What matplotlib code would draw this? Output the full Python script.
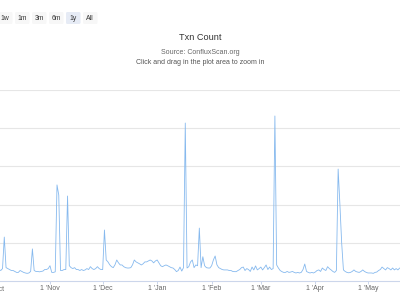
import numpy as np
import matplotlib
matplotlib.use("Agg")
import matplotlib.pyplot as plt
import matplotlib.dates as mdates
from matplotlib.patches import FancyBboxPatch
from matplotlib.transforms import blended_transform_factory

plt.rcParams['font.family'] = ['Liberation Sans', 'DejaVu Sans']

# daily transaction counts (thousands), Oct 2020 .. May 2021
oct_vals = [6.5, 6.0, 6.0, 5.5, 6.5, 23.0, 7.0, 6.5, 6.0, 5.5, 5.5, 5.0, 4.5, 4.5, 5.5, 5.0,
            4.5, 4.2, 4.0, 4.2, 5.0, 16.8, 5.5, 5.0, 5.0, 4.8, 5.0, 5.2, 6.0, 6.0, 6.5]
nov_vals = [8.0, 4.5, 4.5, 4.8, 50.3, 45.0, 5.5, 5.5, 6.0, 6.0, 44.5, 8.0, 7.0, 6.5, 7.0,
            6.0, 6.0, 5.5, 6.0, 5.5, 5.8, 6.5, 6.0, 7.5, 6.5, 6.0, 6.5, 7.5, 6.5, 6.0]
dec_vals = [6.0, 26.7, 11.0, 10.0, 8.5, 7.5, 7.0, 8.5, 11.0, 9.5, 8.4, 8.4, 7.5, 7.0, 6.8, 6.8,
            7.0, 8.5, 11.0, 10.0, 9.5, 9.0, 8.4, 9.0, 10.0, 10.0, 10.5, 11.0, 10.5, 9.5, 10.5]
jan_vals = [11.0, 9.5, 8.0, 7.5, 8.0, 8.4, 8.0, 7.5, 7.0, 6.8, 6.0, 4.9, 5.5, 7.3, 5.2, 7.0,
            82.7, 6.8, 7.5, 10.0, 11.0, 7.0, 8.4, 8.0, 27.7, 7.0, 12.7, 8.0, 7.0, 6.8, 6.8]
feb_vals = [8.0, 11.0, 13.1, 8.5, 7.0, 6.5, 6.0, 5.8, 5.8, 5.8, 5.5, 5.5, 5.0, 4.9, 4.9, 5.5,
            6.0, 7.0, 7.3, 5.5, 6.5, 6.0, 5.0, 7.3, 5.8, 7.9, 5.8, 6.5]
mar_vals = [7.3, 5.8, 7.0, 8.4, 6.0, 7.3, 6.0, 6.5, 86.4, 8.4, 6.8, 5.5, 4.9, 4.5, 4.5, 5.0,
            4.5, 4.7, 5.0, 4.5, 4.2, 4.5, 4.2, 4.5, 6.0, 8.9, 5.0, 4.5, 4.2, 4.5, 4.2]
apr_vals = [4.7, 5.5, 5.8, 5.0, 6.8, 6.0, 5.5, 7.5, 6.5, 5.8, 5.0, 4.5, 5.5, 58.6, 40.0, 20.0,
            5.8, 5.0, 4.5, 4.3, 4.5, 5.0, 5.8, 5.0, 4.7, 4.5, 5.0, 5.8, 5.0, 4.5]
may_vals = [4.2, 4.2, 4.2, 4.0, 4.5, 4.7, 5.5, 6.0, 7.3, 6.5, 5.8, 7.0, 6.5, 5.8, 6.8, 5.8,
            6.5, 5.8, 6.8, 6.5, 6.0]

txn_k = np.array(oct_vals + nov_vals + dec_vals + jan_vals + feb_vals + mar_vals + apr_vals + may_vals)
start = np.datetime64('2020-10-01')
dates = start + np.arange(len(txn_k)).astype('timedelta64[D]')

month_ticks = ['2020-10-01', '2020-11-01', '2020-12-01', '2021-01-01', '2021-02-01',
               '2021-03-01', '2021-04-01', '2021-05-01']
month_labels = ["1 'Oct", "1 'Nov", "1 'Dec", "1 'Jan", "1 'Feb", "1 'Mar", "1 'Apr", "1 'May"]
grid_vals = [20, 40, 60, 80, 100]
buttons = ['1w', '1m', '3m', '6m', '1y', 'All']
selected_button = '1y'

fig = plt.figure(figsize=(4, 3), dpi=100)
fig.patch.set_facecolor('white')

H = 300.0
ax = fig.add_axes([0, (H - 281) / H, 1, (281 - 90) / H])
x = mdates.date2num(dates)
ax.plot(x, txn_k, color='#86b9ee', lw=0.6, solid_joinstyle='round')

x0 = mdates.date2num(start)
ax.set_xlim(x0 + 2.56, x0 + 230.2)
ax.set_ylim(0, 100)
ax.set_yticks(grid_vals)
ax.yaxis.grid(True, color='#e6e6e6', lw=0.8)
ax.tick_params(axis='y', left=False, labelleft=False)
ax.set_axisbelow(True)
for s in ['top', 'left', 'right']:
    ax.spines[s].set_visible(False)
ax.spines['bottom'].set_color('#ccd6eb')
ax.spines['bottom'].set_linewidth(0.8)

tick_nums = [mdates.date2num(np.datetime64(t)) for t in month_ticks]
ax.set_xticks(tick_nums[1:])
ax.set_xticklabels(month_labels[1:])
ax.tick_params(axis='x', length=2.5, width=0.7, color='#ccd6eb', pad=0.6,
               labelsize=5.0, labelcolor='#666666')
trans = blended_transform_factory(ax.transData, ax.transAxes)
# October label partly outside the visible area
ax.text(tick_nums[0], -0.024, month_labels[0], transform=trans, ha='center', va='top',
        fontsize=5.0, color='#666666', clip_on=False)

fig.text(0.5, 1 - 38 / H, 'Txn Count', ha='center', va='center', fontsize=6.6, color='#333333')
fig.text(0.5, 1 - 53 / H, 'Source: ConfluxScan.org', ha='center', va='center', fontsize=5.0,
         color='#666666')
fig.text(0.5, 1 - 62 / H, 'Click and drag in the plot area to zoom in', ha='center', va='center',
         fontsize=5.0, color='#555555')

# range selector buttons
for i, b in enumerate(buttons):
    cx = 5 + 17 * i
    face = '#e6ebf5' if b == selected_button else '#f7f7f7'
    rect = FancyBboxPatch(((cx - 7) / 400, 1 - 24 / H), 14.5 / 400, 12 / H,
                          boxstyle='round,pad=0,rounding_size=0.004', transform=fig.transFigure,
                          facecolor=face, edgecolor='none')
    fig.patches.append(rect)
    fig.text((cx + 0.3) / 400, 1 - 18.5 / H, b, ha='center', va='center', fontsize=4.9,
             color='#333333')

fig.savefig('out.png', dpi=100)
